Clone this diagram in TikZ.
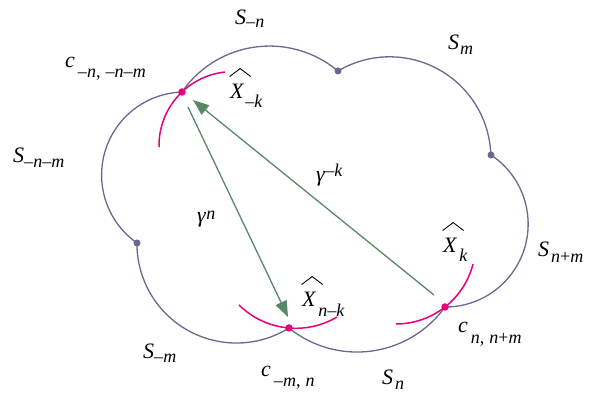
\documentclass[tikz,border=0pt]{standalone}
\usepackage{fontspec}
\setmainfont{Liberation Serif}
\usetikzlibrary{arrows.meta}
\definecolor{cloudc}{RGB}{108,103,145}
\definecolor{magc}{RGB}{230,0,126}
\definecolor{grnc}{RGB}{88,135,104}
\newcommand\lowr[2]{\raisebox{-#1}{\fontsize{18}{18}\selectfont #2}}
\newcommand\upr[2]{\raisebox{#1}{\fontsize{18}{18}\selectfont #2}}
\newcommand\mn{\textup{–}}
\newcommand\cm{,\kern5pt}
\newcommand\hatX{\leavevmode\rlap{\kern-1pt\raisebox{22pt}{\tikz\draw[line width=0.9pt,line join=miter] (0pt,0pt)--(10.5pt,8pt)--(21pt,0pt);}}\textit{X}}
\tikzset{
  cloudarc/.style={draw=cloudc,line width=1.3pt},
  magarc/.style={draw=magc,line width=1.5pt},
  garrow/.style={draw=grnc,line width=1.3pt,-{Triangle[length=16pt,width=12pt]}},
  mdot/.style={circle,fill=magc,inner sep=0pt,minimum size=7.5pt},
  gdot/.style={circle,fill=cloudc,inner sep=0pt,minimum size=7pt},
  lab/.style={anchor=base west,inner sep=0pt,font=\fontsize{22}{24}\selectfont}
}
\begin{document}
\begin{tikzpicture}[x=1pt,y=1pt]
\useasboundingbox (0,0) rectangle (595,399);
% junction points
\coordinate (P1) at (182,307);
\coordinate (P2) at (338,328);
\coordinate (P3) at (491,244);
\coordinate (P4) at (445,92);
\coordinate (P5) at (289,71);
\coordinate (P6) at (137,156);
% cloud arcs
\draw[cloudarc] (P1) arc[start angle=145.4,end angle=49.9,radius=106.3];
\draw[cloudarc] (P2) arc[start angle=120.7,end angle=1.5,radius=101.2];
\draw[cloudarc] (P3) arc[start angle=56.5,end angle=-90.1,radius=82.9];
\draw[cloudarc] (P4) arc[start angle=-35.8,end angle=-128.8,radius=108.5];
\draw[cloudarc] (P5) arc[start angle=-58.1,end angle=-180.3,radius=99.5];
\draw[cloudarc] (P6) arc[start angle=235,end angle=91.8,radius=83];
% magenta arcs
\draw[magarc] (233,253.4) ++(181.1:74) arc[start angle=181.1,end angle=96.2,radius=74];
\draw[magarc] (295.8,151.6) ++(-134.6:80.9) arc[start angle=-134.6,end angle=-59.4,radius=80.9];
\draw[magarc] (395.8,154.7) ++(-89.9:79.7) arc[start angle=-89.9,end angle=-14.3,radius=79.7];
% green arrows
\coordinate (g1s) at (188,292);
\coordinate (g1e) at (288,82);
\coordinate (g2s) at (434,104);
\coordinate (g2e) at (193,299);
\draw[garrow] (g1s) -- (g1e);
\draw[garrow] (g2s) -- (g2e);
% dots
\node[mdot] (d1) at (P1) {};
\node[mdot] (d5) at (P5) {};
\node[mdot] (d4) at (P4) {};
\node[gdot] (d2) at (P2) {};
\node[gdot] (d3) at (P3) {};
\node[gdot] (d6) at (P6) {};
% labels
\node[lab] (lSmn) at (235,374) {\textit{S}\lowr{3pt}{\mn\textit{n}}};
\node[lab] (lSm) at (448,349) {\textit{S}\kern1pt\lowr{5pt}{\textit{m}}};
\node[lab] (lc1) at (65,331) {\textit{c}\kern3pt\lowr{10pt}{\mn\textit{n}\cm\mn\textit{n}\mn\textit{m}}};
\node[lab] (lXmk) at (230,300) {\hatX\kern1pt\lowr{9pt}{\mn\textit{k}}};
\node[lab] (lSnm) at (13,236) {\textit{S}\lowr{5pt}{\mn\textit{n}\mn\textit{m}}};
\node[lab] (lgk) at (316,217) {\textit{γ}\upr{5pt}{\mn\textit{k}}};
\node[lab] (lgn) at (197,176) {\textit{γ}\upr{3pt}{\textit{n}}};
\node[lab] (lXk) at (443,146) {\hatX\kern2pt\lowr{9pt}{\textit{k}}};
\node[lab] (lSpnm) at (538,142) {\textit{S}\kern2pt\lowr{6pt}{\textit{n}+\textit{m}}};
\node[lab] (lXnk) at (302,92) {\hatX\kern2pt\lowr{10pt}{\textit{n}\mn\textit{k}}};
\node[lab] (lc2) at (458,66) {\textit{c}\kern3pt\lowr{11pt}{\textit{n}\cm\textit{n}+\textit{m}}};
\node[lab] (lSmm) at (143,40) {\textit{S}\lowr{4pt}{\mn\textit{m}}};
\node[lab] (lc3) at (261,22) {\textit{c}\kern3pt\lowr{10pt}{\mn\textit{m}\cm\textit{n}}};
\node[lab] (lSn) at (382,14) {\textit{S}\kern2pt\lowr{5pt}{\textit{n}}};
\end{tikzpicture}
\end{document}
